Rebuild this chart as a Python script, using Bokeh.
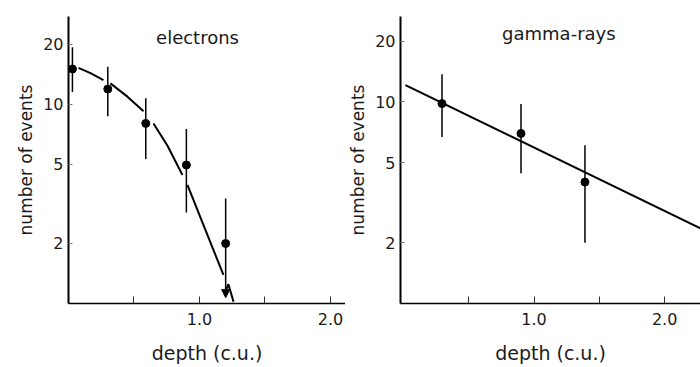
from bokeh.plotting import figure
from bokeh.layouts import row
from bokeh.models import (Range1d, FixedTicker, PrintfTickFormatter, Label,
                          Arrow, NormalHead, ColumnDataSource)
from bokeh.embed import file_html
from bokeh.resources import INLINE

# ---------------- data: electrons ----------------
el_depth = [0.03, 0.30, 0.59, 0.90, 1.20]
el_events = [15.0, 11.9, 8.0, 4.95, 2.0]
el_err_hi = [19.3, 15.4, 10.7, 7.5, 3.36]
el_err_lo = [11.5, 8.7, 5.3, 2.86, 1.07]   # last one is an upper limit (arrow)

el_curve_x = [[0.076, 0.168, 0.267], [0.32, 0.45, 0.573],
              [0.649, 0.756, 0.870], [0.908, 1.183], [1.206, 1.221, 1.26]]
el_curve_y = [[15.2, 14.3, 13.2], [12.7, 10.9, 9.2],
              [8.0, 6.18, 4.41], [3.94, 1.39], [1.18, 1.25, 1.02]]

# ---------------- data: gamma-rays ----------------
gr_depth = [0.295, 0.90, 1.39]
gr_events = [9.8, 6.97, 4.0]
gr_err_hi = [13.7, 9.76, 6.1]
gr_err_lo = [6.7, 4.43, 2.0]

gr_fit_x = [0.015, 2.275]
gr_fit_y = [12.1, 2.36]

y_ticks = [2, 5, 10, 20]
x_major = [1.0, 2.0]
x_minor = [0.5, 1.5]

FONT = "DejaVu Sans"
TXT = "#1a1a1a"


def style(p, ylabel="number of events", xlabel="depth (c.u.)"):
    p.outline_line_color = None
    p.xgrid.visible = False
    p.ygrid.visible = False
    p.background_fill_color = "white"
    p.border_fill_color = "white"

    xa = p.xaxis[0]
    xa.ticker = FixedTicker(ticks=x_major, minor_ticks=x_minor)
    xa.formatter = PrintfTickFormatter(format="%.1f")
    xa.axis_line_width = 1.5
    xa.axis_line_color = "black"
    xa.major_tick_in = 7
    xa.major_tick_out = 0
    xa.minor_tick_in = 7
    xa.minor_tick_out = 0
    xa.major_tick_line_color = "#333"
    xa.minor_tick_line_color = "#333"
    xa.major_label_text_font = FONT
    xa.major_label_text_font_size = "16px"
    xa.major_label_text_color = TXT
    xa.major_label_standoff = 9
    xa.axis_label = xlabel
    xa.axis_label_text_font = FONT
    xa.axis_label_text_font_size = "19px"
    xa.axis_label_text_font_style = "normal"
    xa.axis_label_text_color = TXT
    xa.axis_label_standoff = 14

    ya = p.yaxis[0]
    ya.ticker = FixedTicker(ticks=y_ticks, minor_ticks=[])
    ya.axis_line_width = 2
    ya.axis_line_color = "black"
    ya.major_tick_in = 4
    ya.major_tick_out = 0
    ya.minor_tick_in = 0
    ya.minor_tick_out = 0
    ya.major_tick_line_color = "#777"
    ya.major_label_text_font = FONT
    ya.major_label_text_font_size = "16px"
    ya.major_label_text_color = TXT
    ya.major_label_standoff = 5
    ya.axis_label = ylabel
    ya.axis_label_text_font = FONT
    ya.axis_label_text_font_size = "17px"
    ya.axis_label_text_font_style = "normal"
    ya.axis_label_text_color = TXT
    ya.axis_label_standoff = 4


# ---------------- left panel ----------------
p1 = figure(width=345, height=367, y_axis_type="log",
            x_range=Range1d(0, 2.115), y_range=Range1d(1.0, 27.5),
            output_backend="svg", toolbar_location=None,
            min_border_left=68, min_border_right=0,
            min_border_top=7, min_border_bottom=64)
style(p1)

src1 = ColumnDataSource(dict(x=el_depth, y=el_events, hi=el_err_hi, lo=el_err_lo))
p1.segment(x0="x", y0="hi", x1="x", y1="y", source=src1, line_color="black", line_width=1.5)
last = len(el_depth) - 1
src1b = ColumnDataSource(dict(x=el_depth[:last], y=el_events[:last], lo=el_err_lo[:last]))
p1.segment(x0="x", y0="y", x1="x", y1="lo", source=src1b, line_color="black", line_width=1.5)
p1.add_layout(Arrow(x_start=el_depth[last], y_start=el_events[last],
                    x_end=el_depth[last], y_end=el_err_lo[last],
                    line_color="black", line_width=1.5,
                    end=NormalHead(size=8, fill_color="black", line_color="black")))
p1.multi_line(xs=el_curve_x, ys=el_curve_y, line_color="black", line_width=2)
p1.scatter("x", "y", source=src1, size=8, fill_color="black", line_color="black")
p1.add_layout(Label(x=0.985, y=21.6, text="electrons", text_align="center",
                    text_baseline="middle", text_font=FONT, text_font_size="18px",
                    text_color=TXT))

# ---------------- right panel ----------------
p2 = figure(width=355, height=367, y_axis_type="log",
            x_range=Range1d(-0.023, 2.275), y_range=Range1d(1.0, 26.5),
            output_backend="svg", toolbar_location=None,
            min_border_left=54, min_border_right=0,
            min_border_top=16, min_border_bottom=63)
style(p2)

src2 = ColumnDataSource(dict(x=gr_depth, y=gr_events, hi=gr_err_hi, lo=gr_err_lo))
p2.segment(x0="x", y0="hi", x1="x", y1="lo", source=src2, line_color="black", line_width=1.5)
p2.line(gr_fit_x, gr_fit_y, line_color="black", line_width=2)
p2.scatter("x", "y", source=src2, size=8, fill_color="black", line_color="black")
p2.add_layout(Label(x=1.19, y=21.9, text="gamma-rays", text_align="center",
                    text_baseline="middle", text_font=FONT, text_font_size="18px",
                    text_color=TXT))

layout = row(p1, p2, spacing=0)
open("out.html", "w").write(file_html(layout, INLINE))
